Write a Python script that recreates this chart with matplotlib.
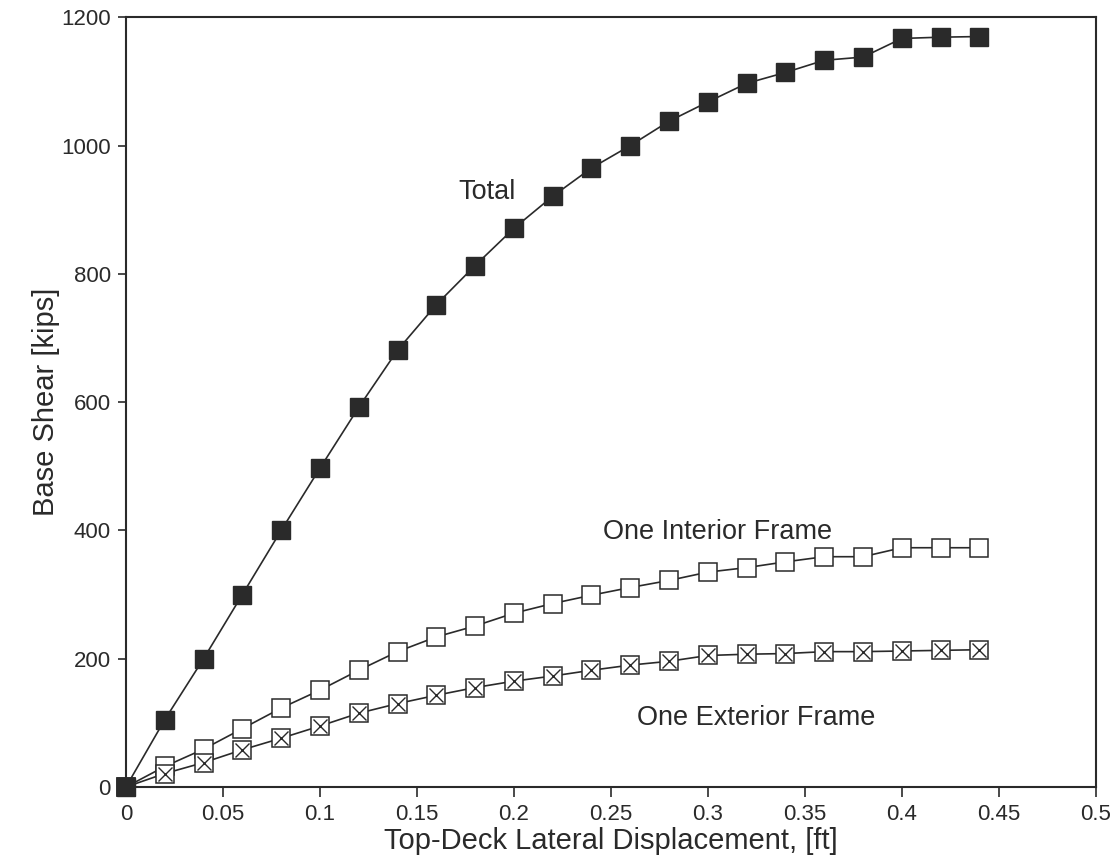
import matplotlib
matplotlib.use("Agg")
import matplotlib.pyplot as plt

plt.rcParams["font.family"] = ["Liberation Sans", "DejaVu Sans"]

disp = [0.0, 0.02, 0.04, 0.06, 0.08, 0.10, 0.12, 0.14, 0.16, 0.18, 0.20, 0.22,
        0.24, 0.26, 0.28, 0.30, 0.32, 0.34, 0.36, 0.38, 0.40, 0.42, 0.44]
total = [0, 105, 200, 300, 400, 497, 592, 681, 752, 813, 871, 921,
         965, 1000, 1038, 1068, 1097, 1114, 1133, 1138, 1167, 1169, 1170]
interior = [0, 32, 59, 91, 123, 151, 182, 211, 234, 251, 271, 286,
            299, 311, 322, 335, 342, 351, 359, 359, 373, 373, 373]
exterior = [0, 21, 38, 58, 76, 95, 115, 130, 143, 155, 165, 173,
            182, 190, 196, 205, 207, 208, 211, 211, 212, 213, 214]

x_ticks = [0, 0.05, 0.1, 0.15, 0.2, 0.25, 0.3, 0.35, 0.4, 0.45, 0.5]
x_tick_labels = ["0", "0.05", "0.1", "0.15", "0.2", "0.25", "0.3", "0.35", "0.4", "0.45", "0.5"]
y_ticks = [0, 200, 400, 600, 800, 1000, 1200]

ink = "#2a2a2a"

fig = plt.figure(figsize=(11.17, 8.65), dpi=100)
ax = fig.add_axes([0.1128, 0.0902, 0.8682, 0.8898])

# hollow-square curves first, solid "Total" on top (covers the origin point)
ax.plot(disp, interior, color=ink, lw=1.2, marker="s", ms=12.5,
        mfc="white", mec=ink, mew=1.1, zorder=3, clip_on=False)
ax.plot(disp, exterior, color=ink, lw=1.2, marker="s", ms=12.5,
        mfc="white", mec=ink, mew=1.1, zorder=3, clip_on=False)
ax.plot(disp, exterior, ls="none", marker="x", ms=9.5, mec=ink, mew=1.0,
        zorder=4, clip_on=False)
ax.plot(disp, total, color=ink, lw=1.2, marker="s", ms=12.5,
        mfc=ink, mec=ink, zorder=5, clip_on=False)

ax.text(0.186, 927, "Total", fontsize=19.5, color=ink, ha="center", va="center")
ax.text(0.305, 397, "One Interior Frame", fontsize=19.5, color=ink, ha="center", va="center")
ax.text(0.325, 107, "One Exterior Frame", fontsize=19.5, color=ink, ha="center", va="center")

ax.set_xlim(0, 0.5)
ax.set_ylim(0, 1200)
ax.set_xticks(x_ticks)
ax.set_xticklabels(x_tick_labels)
ax.set_yticks(y_ticks)
ax.tick_params(axis="x", direction="out", length=7, width=1.2, pad=5,
               labelsize=16, colors=ink)
ax.tick_params(axis="y", direction="out", length=6, width=1.2, pad=5,
               labelsize=16, colors=ink)
for s in ax.spines.values():
    s.set_linewidth(1.5)
    s.set_color(ink)

ax.set_xlabel("Top-Deck Lateral Displacement, [ft]", fontsize=21, color=ink, labelpad=2)
ax.set_ylabel("Base Shear [kips]", fontsize=21, color=ink, labelpad=1)

fig.savefig("out.png", dpi=100)
